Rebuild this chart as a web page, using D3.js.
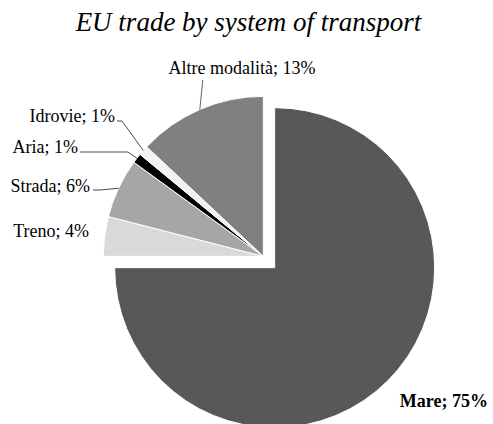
<!DOCTYPE html>
<html>
<head>
<meta charset="utf-8">
<script src="https://cdn.jsdelivr.net/npm/d3@7"></script>
<style>
  html, body { margin: 0; padding: 0; background: #fff; }
  svg { display: block; }
  text { font-family: "Liberation Serif", "Times New Roman", serif; fill: #000; }
</style>
</head>
<body>
<svg id="chart" width="493" height="424"></svg>
<script>
// Share of EU trade by transport mode (percent)
const categories = ["Mare", "Treno", "Strada", "Aria", "Idrovie", "Altre modalità"];
const shares = [75, 4, 6, 1, 1, 13];
const fills = ["#585858", "#d9d9d9", "#a6a6a6", "#000000", "#f2f2f2", "#808080"];

const width = 493, height = 424;
const cx = 269, cy = 262, radius = 160, explode = 8;

// label anchors and leader line starts
const labelLayout = {
  "Mare":           { x: 488, y: 407, anchor: "end",   bold: true },
  "Treno":          { x: 89,  y: 237, anchor: "end" },
  "Strada":         { x: 90,  y: 192, anchor: "end", lead: [93, 190, 100] },
  "Aria":           { x: 78,  y: 153, anchor: "end", lead: [80, 152, 128] },
  "Idrovie":        { x: 115, y: 122, anchor: "end", lead: [117, 121, 122] },
  "Altre modalità": { x: 242, y: 74,  anchor: "middle", leadTop: 80 }
};

const svg = d3.select("#chart");

svg.append("text")
  .attr("x", width / 2 + 2)
  .attr("y", 31)
  .attr("text-anchor", "middle")
  .style("font-style", "italic")
  .style("font-size", "27px")
  .text("EU trade by system of transport");

const pie = d3.pie().sort(null).value(d => d.value);
const arcs = pie(categories.map((c, i) => ({ name: c, value: shares[i], fill: fills[i] })));
const arc = d3.arc().innerRadius(0).outerRadius(radius);

// Mare is pulled out on its own; the remaining modes are pulled out together
const mareArc = arcs[0];
const restStart = arcs[1].startAngle, restEnd = arcs[arcs.length - 1].endAngle;
function offset(a0, a1) {
  const m = (a0 + a1) / 2;
  return [cx + explode * Math.sin(m), cy - explode * Math.cos(m)];
}
const mareCenter = offset(mareArc.startAngle, mareArc.endAngle);
const restCenter = offset(restStart, restEnd);

const g = svg.append("g");
arcs.forEach((d, i) => {
  const c = i === 0 ? mareCenter : restCenter;
  g.append("path")
    .attr("transform", `translate(${c[0]},${c[1]})`)
    .attr("d", arc(d))
    .attr("fill", d.data.fill)
    .attr("stroke", "#fff")
    .attr("stroke-width", 1)
    .attr("stroke-linejoin", "round");
});

// leader lines and labels
arcs.forEach((d, i) => {
  const L = labelLayout[d.data.name];
  const c = i === 0 ? mareCenter : restCenter;
  const m = (d.startAngle + d.endAngle) / 2;
  const px = c[0] + radius * Math.sin(m), py = c[1] - radius * Math.cos(m);
  if (L.lead) {
    svg.append("polyline")
      .attr("points", `${L.lead[0]},${L.lead[1]} ${L.lead[2]},${L.lead[1]} ${px},${py}`)
      .attr("fill", "none")
      .attr("stroke", "#333")
      .attr("stroke-width", 0.9);
  }
  if (L.leadTop) {
    svg.append("line")
      .attr("x1", px + 3).attr("y1", L.leadTop)
      .attr("x2", px).attr("y2", py)
      .attr("stroke", "#555")
      .attr("stroke-width", 0.9);
  }
  svg.append("text")
    .attr("x", L.x)
    .attr("y", L.y)
    .attr("text-anchor", L.anchor)
    .style("font-size", "18px")
    .style("font-weight", L.bold ? "bold" : "normal")
    .text(`${d.data.name}; ${d.data.value}%`);
});
</script>
</body>
</html>
